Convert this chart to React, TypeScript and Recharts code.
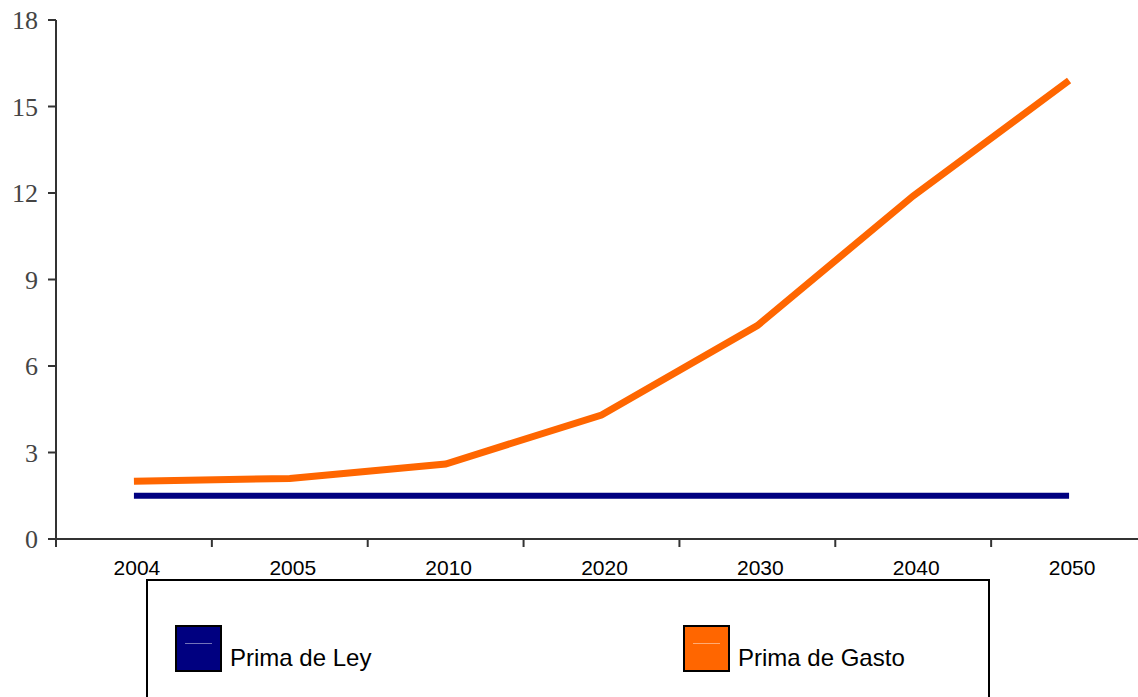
import { LineChart, Line, XAxis, YAxis } from 'recharts'

const YEARS = ['2004', '2005', '2010', '2020', '2030', '2040', '2050']
const PRIMA_LEY = [1.5, 1.5, 1.5, 1.5, 1.5, 1.5, 1.5]
const PRIMA_GASTO = [2.0, 2.1, 2.6, 4.3, 7.4, 11.9, 15.9]
const Y_TICKS = [0, 3, 6, 9, 12, 15, 18]

const SERIES = [
  { key: 'ley', label: 'Prima de Ley', color: '#000080' },
  { key: 'gasto', label: 'Prima de Gasto', color: '#FF6600' },
]

// category boundaries sit on whole numbers, points and labels sit in the middle of each band
const X_TICKS = YEARS.flatMap((_, i) => [i, i + 0.5]).concat(YEARS.length)

const data = YEARS.map((year, i) => ({
  pos: i + 0.5,
  year,
  ley: PRIMA_LEY[i],
  gasto: PRIMA_GASTO[i],
}))

function XTick(props: any) {
  const { x, y, payload } = props
  const v = payload.value as number
  if (Number.isInteger(v)) {
    return <line x1={x} y1={y} x2={x} y2={y + 8} stroke="#333" strokeWidth={2} />
  }
  return (
    <text
      x={x + 3}
      y={y + 36}
      textAnchor="middle"
      fontFamily='"Liberation Sans", Arial, sans-serif'
      fontSize={21}
      fill="#000"
    >
      {YEARS[Math.floor(v)]}
    </text>
  )
}

export default function App() {
  return (
    <div
      style={{
        position: 'absolute',
        left: 0,
        top: 0,
        width: 1138,
        height: 697,
        overflow: 'hidden',
        background: '#fff',
      }}
    >
      <LineChart width={1160} height={697} data={data} margin={{ top: 20, right: 13, left: 0, bottom: 108 }}>
        <XAxis
          dataKey="pos"
          type="number"
          domain={[0, YEARS.length]}
          ticks={X_TICKS}
          interval={0}
          tick={<XTick />}
          tickLine={false}
          tickSize={0}
          tickMargin={0}
          height={50}
          stroke="#333"
          strokeWidth={2}
        />
        <YAxis
          type="number"
          domain={[0, 18]}
          ticks={Y_TICKS}
          interval={0}
          width={56}
          tickSize={8}
          tickMargin={10}
          stroke="#333"
          strokeWidth={2}
          tick={{ fill: '#444', fontSize: 26, fontFamily: '"Liberation Serif", "Times New Roman", serif' }}
        />
        <Line
          type="linear"
          dataKey="ley"
          stroke="#000080"
          strokeWidth={6}
          dot={false}
          isAnimationActive={false}
        />
        <Line
          type="linear"
          dataKey="gasto"
          stroke="#FF6600"
          strokeWidth={7}
          dot={false}
          isAnimationActive={false}
        />
      </LineChart>

      {/* Legend */}
      <div
        style={{
          position: 'absolute',
          left: 146,
          top: 579,
          width: 840,
          height: 140,
          border: '2px solid #000',
          fontFamily: '"Liberation Sans", Arial, sans-serif',
        }}
      >
        {SERIES.map((s, i) => (
          <div
            key={s.key}
            style={{
              position: 'absolute',
              left: i === 0 ? 27 : 535,
              top: 44,
              display: 'flex',
              alignItems: 'flex-end',
            }}
          >
            <div
              style={{
                position: 'relative',
                width: 43,
                height: 43,
                border: '2px solid #000',
                backgroundColor: s.color,
              }}
            >
              <div
                style={{
                  position: 'absolute',
                  left: 8,
                  right: 8,
                  top: 16,
                  height: 1,
                  backgroundColor: 'rgba(255,255,255,0.45)',
                }}
              />
            </div>
            <span style={{ fontSize: 24, color: '#000', marginLeft: 8, lineHeight: '24px', marginBottom: 2 }}>
              {s.label}
            </span>
          </div>
        ))}
      </div>
    </div>
  )
}
